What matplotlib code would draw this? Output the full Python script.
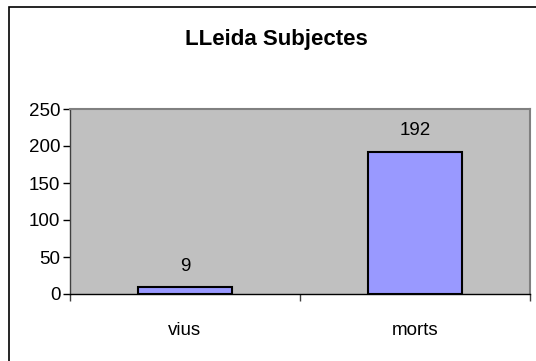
import matplotlib.pyplot as plt
from matplotlib.patches import Rectangle

categories = ['vius', 'morts']
values = [9, 192]
yticks = [0, 50, 100, 150, 200, 250]

plt.rcParams['font.family'] = ['Liberation Sans', 'DejaVu Sans']

fig = plt.figure(figsize=(5.36, 3.61), dpi=100)
ax = fig.add_axes([70 / 536, 67 / 361, 460 / 536, 185 / 361])

# outer chart frame (runs off the right and bottom edge, like the original)
fig.patches.append(Rectangle((9 / 536, -0.05), 1.0, 1 - 7 / 361 + 0.05,
                             transform=fig.transFigure, fill=False,
                             edgecolor='black', linewidth=1.2))

ax.set_facecolor('#C0C0C0')
x = range(len(categories))
bars = ax.bar(x, values, width=0.405, color='#9999FF', edgecolor='black', linewidth=1.5)
for b, v in zip(bars, values):
    ax.annotate(str(v), (b.get_x() + b.get_width() / 2, v), xytext=(0, 9),
                textcoords='offset points', ha='center', va='bottom', fontsize=13.5)

ax.set_xlim(-0.5, len(categories) - 0.5)
ax.set_ylim(0, 250)
ax.set_yticks(yticks)
ax.set_xticks(list(x))
ax.set_xticklabels(categories, fontsize=13.5)
ax.set_xticks([i - 0.5 for i in range(len(categories) + 1)], minor=True)
ax.tick_params(axis='x', which='major', length=0, pad=20)
ax.tick_params(axis='x', which='minor', length=5, width=1, color='#404040')
ax.tick_params(axis='y', length=5, width=1, pad=2, labelsize=13.5)

for s in ['top', 'right']:
    ax.spines[s].set_color('#808080')
    ax.spines[s].set_linewidth(1.5)
ax.spines['left'].set_color('#404040')
ax.spines['bottom'].set_color('black')
ax.spines['left'].set_linewidth(1)
ax.spines['bottom'].set_linewidth(1)

fig.text(276 / 536, 1 - 45 / 361, 'LLeida Subjectes', ha='center', va='baseline',
         fontsize=16, fontweight='bold')

fig.savefig('out.png', dpi=100)
